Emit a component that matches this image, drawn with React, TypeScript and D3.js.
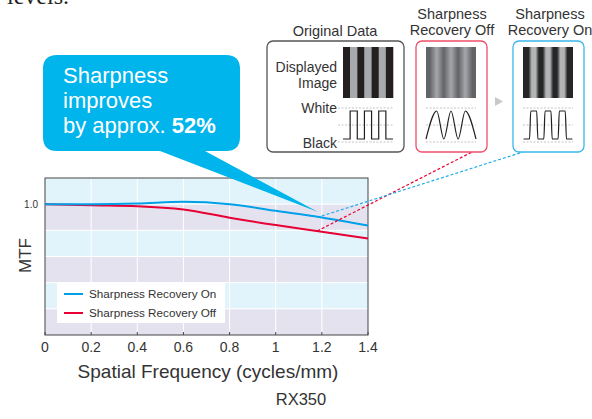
import React from 'react';
import * as d3 from 'd3';

// MTF chart data
const freq = [0, 0.2, 0.4, 0.6, 0.8, 1.0, 1.2, 1.4];
const mtfOn = [1.0, 1.0, 1.005, 1.018, 1.0, 0.949, 0.898, 0.837];
const mtfOff = [1.0, 0.992, 0.985, 0.96, 0.896, 0.84, 0.79, 0.738];
const xTickLabels = ['0', '0.2', '0.4', '0.6', '0.8', '1', '1.2', '1.4'];
const yTickValues = [1.0];
const yTickLabels = ['1.0'];
const bandEdges = [0, 0.2, 0.4, 0.6, 0.8, 1.0, 1.2];
const seriesNames = ['Sharpness Recovery On', 'Sharpness Recovery Off'];

// illustration: stripe levels (0 = black, 1 = white/gray)
const stripeLevels = [0, 1, 0, 1, 0, 1, 0];
const panelTitles = [
  ['Original Data'],
  ['Sharpness', 'Recovery Off'],
  ['Sharpness', 'Recovery On'],
];

const FONT = '"Liberation Sans", Arial, Helvetica, sans-serif';
const TEXT = '#333';
const BLUE = '#00a0e9';
const RED = '#e60033';

const plot = { left: 45, right: 368, top: 178, bottom: 335 };

export default function App() {
  const xScale = d3.scaleLinear().domain([0, 1.4]).range([plot.left, plot.right]);
  const yScale = d3.scaleLinear().domain([0, 1.2]).range([plot.bottom, plot.top]);

  const line = d3
    .line<number>()
    .x((_, i) => xScale(freq[i]))
    .y((d) => yScale(d))
    .curve(d3.curveMonotoneX);

  const bands = d3.pairs(bandEdges);

  // stripe panels
  const panelX = [343, 426, 523];
  const stripeW = 50 / stripeLevels.length;
  const stripeTop = 47;
  const stripeBottom = 98;
  const waveY = d3.scaleLinear().domain([0, 1]).range([139, 111]);

  const stepWave = (x0: number) => {
    const pts: [number, number][] = stripeLevels.map((lv, i) => [x0 + i * stripeW, waveY(lv)]);
    pts.push([x0 + stripeLevels.length * stripeW, waveY(stripeLevels[stripeLevels.length - 1])]);
    return d3.line().curve(d3.curveStepAfter)(pts) as string;
  };
  const smoothWave = (x0: number) => {
    const pts: [number, number][] = [[x0, waveY(0)]];
    stripeLevels.forEach((lv, i) => {
      if (i > 0 && i < stripeLevels.length - 1) pts.push([x0 + (i + 0.5) * stripeW, waveY(lv)]);
    });
    pts.push([x0 + stripeLevels.length * stripeW, waveY(0)]);
    return d3.line().curve(d3.curveMonotoneX)(pts) as string;
  };
  const roundedStep = (x0: number) => {
    const pts: [number, number][] = [];
    stripeLevels.forEach((lv, i) => {
      const a = x0 + i * stripeW;
      pts.push([a + 0.6, waveY(lv)]);
      pts.push([a + stripeW - 0.6, waveY(lv)]);
    });
    return d3.line().curve(d3.curveMonotoneX)(pts) as string;
  };

  const offColors = ['#626366', '#a6a7aa'];
  const onColors = ['#262626', '#b3b4b6'];

  const legendY = [294, 313];

  return (
    <svg
      width={592}
      height={419}
      style={{ position: 'absolute', left: 0, top: 0, background: '#fff' }}
      fontFamily={FONT}
    >
      <defs>
        <linearGradient id="offGrad" x1={panelX[1]} x2={panelX[1] + 50} y1={0} y2={0} gradientUnits="userSpaceOnUse">
          {stripeLevels.map((lv, i) => (
            <stop key={i} offset={(i + 0.5) / stripeLevels.length} stopColor={offColors[lv]} />
          ))}
        </linearGradient>
        <linearGradient id="onGrad" x1={panelX[2]} x2={panelX[2] + 50} y1={0} y2={0} gradientUnits="userSpaceOnUse">
          {stripeLevels.flatMap((lv, i) => [
            <stop key={`a${i}`} offset={(i + 0.22) / stripeLevels.length} stopColor={onColors[lv]} />,
            <stop key={`b${i}`} offset={(i + 0.78) / stripeLevels.length} stopColor={onColors[lv]} />,
          ])}
        </linearGradient>
      </defs>

      {/* cut-off body text above */}
      <text x={7} y={4} fontFamily='"Liberation Serif", "Times New Roman", serif' fontSize={24} fill="#231f20">
        levels.
      </text>

      {/* background bands */}
      {bands.map(([a, b], i) => (
        <rect
          key={i}
          x={plot.left}
          y={yScale(b)}
          width={plot.right - plot.left}
          height={yScale(a) - yScale(b)}
          fill={i % 2 === 0 ? '#e5e2f0' : '#e2f4fb'}
        />
      ))}
      {bandEdges.slice(1, -1).map((v) => (
        <line key={v} x1={plot.left} x2={plot.right} y1={yScale(v)} y2={yScale(v)} stroke="#fff" strokeWidth={1} />
      ))}
      {freq.slice(1, -1).map((f) => (
        <line key={f} x1={xScale(f)} x2={xScale(f)} y1={plot.top} y2={plot.bottom} stroke="#fff" strokeWidth={1} />
      ))}

      {/* frame */}
      <rect
        x={plot.left}
        y={plot.top}
        width={plot.right - plot.left}
        height={plot.bottom - plot.top}
        fill="none"
        stroke="#444"
        strokeWidth={1}
      />
      {freq.map((f) => (
        <line key={f} x1={xScale(f)} x2={xScale(f)} y1={plot.bottom} y2={plot.bottom - 3} stroke="#444" />
      ))}
      {freq.map((f, i) => (
        <text key={f} x={xScale(f)} y={352} textAnchor="middle" fontSize={14} fill={TEXT}>
          {xTickLabels[i]}
        </text>
      ))}
      {yTickValues.map((v, i) => (
        <text key={v} x={38} y={yScale(v) + 3.5} textAnchor="end" fontSize={10} fill={TEXT}>
          {yTickLabels[i]}
        </text>
      ))}
      <text x={208} y={378} textAnchor="middle" fontSize={19} fill={TEXT}>
        Spatial Frequency (cycles/mm)
      </text>
      <text x={301} y={405} textAnchor="middle" fontSize={16.5} fill={TEXT}>
        RX350
      </text>
      <text
        transform={`translate(31,${(plot.top + plot.bottom) / 2 - 1}) rotate(-90)`}
        textAnchor="middle"
        fontSize={17}
        fill={TEXT}
      >
        MTF
      </text>

      {/* series */}
      <path d={line(mtfOff) as string} fill="none" stroke={RED} strokeWidth={2} />
      <path d={line(mtfOn) as string} fill="none" stroke={BLUE} strokeWidth={2} />

      {/* legend */}
      <rect x={57} y={282} width={168} height={41} fill="#fff" />
      {[BLUE, RED].map((c, i) => (
        <g key={c}>
          <line x1={64} x2={83} y1={legendY[i]} y2={legendY[i]} stroke={c} strokeWidth={2} />
          <text x={89} y={legendY[i] + 4} fontSize={11.7} fill={TEXT}>
            {seriesNames[i]}
          </text>
        </g>
      ))}

      {/* dashed leaders to panels */}
      <line
        x1={xScale(1.18)}
        y1={yScale(0.795)}
        x2={472}
        y2={152}
        stroke={RED}
        strokeWidth={1.2}
        strokeDasharray="3,2"
      />
      <line
        x1={xScale(1.2)}
        y1={yScale(0.91)}
        x2={523}
        y2={152}
        stroke="#22aee8"
        strokeWidth={1.2}
        strokeDasharray="3,2"
      />

      {/* callout */}
      <path
        d="M57,55 H226 Q240,55 240,69 V137 Q240,151 226,151 H205 L318,212 L160,151 H57 Q43,151 43,137 V69 Q43,55 57,55 Z"
        fill="#00b4ec"
      />
      <text x={63} y={83} fontSize={22} fill="#fff">
        Sharpness
      </text>
      <text x={63} y={108} fontSize={22} fill="#fff">
        improves
      </text>
      <text x={63} y={133} fontSize={22} fill="#fff">
        by approx.
        <tspan dx={6} fontWeight="bold">
          52%
        </tspan>
      </text>

      {/* panels */}
      <rect x={267} y={41} width={137} height={111} rx={6} fill="#fff" stroke="#555" strokeWidth={1.3} />
      <rect x={416} y={41} width={71} height={111} rx={6} fill="#fff" stroke="#ef4d6a" strokeWidth={1.3} />
      <rect x={513} y={41} width={71} height={111} rx={6} fill="#fff" stroke="#3ab6ea" strokeWidth={1.3} />

      <text x={335} y={36} textAnchor="middle" fontSize={14.5} fill={TEXT}>
        {panelTitles[0][0]}
      </text>
      {[452, 550].map((cx, p) =>
        panelTitles[p + 1].map((t, j) => (
          <text key={`${p}${j}`} x={cx} y={19 + j * 16} textAnchor="middle" fontSize={14.5} fill={TEXT}>
            {t}
          </text>
        ))
      )}

      <text x={337} y={72} textAnchor="end" fontSize={14} fill={TEXT}>
        Displayed
      </text>
      <text x={337} y={88} textAnchor="end" fontSize={14} fill={TEXT}>
        Image
      </text>
      <text x={337} y={113} textAnchor="end" fontSize={14} fill={TEXT}>
        White
      </text>
      <text x={337} y={148} textAnchor="end" fontSize={14} fill={TEXT}>
        Black
      </text>

      {/* stripes */}
      {stripeLevels.map((lv, i) => (
        <rect
          key={i}
          x={panelX[0] + i * stripeW}
          y={stripeTop}
          width={stripeW + 0.3}
          height={stripeBottom - stripeTop}
          fill={lv ? '#a7a9ac' : '#231f20'}
        />
      ))}
      <rect x={panelX[1]} y={stripeTop} width={50} height={stripeBottom - stripeTop} fill="url(#offGrad)" />
      <rect x={panelX[2]} y={stripeTop} width={50} height={stripeBottom - stripeTop} fill="url(#onGrad)" />

      {/* guide dashes */}
      {panelX.map((px, p) =>
        [108, 125, 142].map((gy) => (
          <line
            key={`${p}-${gy}`}
            x1={p === 0 ? 338 : px}
            x2={px + 50}
            y1={gy}
            y2={gy}
            stroke="#b5b5b5"
            strokeWidth={0.8}
            strokeDasharray="2,1.5"
          />
        ))
      )}

      {/* waves */}
      <path d={stepWave(panelX[0])} fill="none" stroke="#231f20" strokeWidth={1.2} />
      <path d={smoothWave(panelX[1])} fill="none" stroke="#231f20" strokeWidth={1.2} />
      <path d={roundedStep(panelX[2])} fill="none" stroke="#231f20" strokeWidth={1.2} strokeLinejoin="round" />

      {/* arrow */}
      <polygon points="495,97 503,101.5 495,106" fill="#c7c8ca" />
    </svg>
  );
}
